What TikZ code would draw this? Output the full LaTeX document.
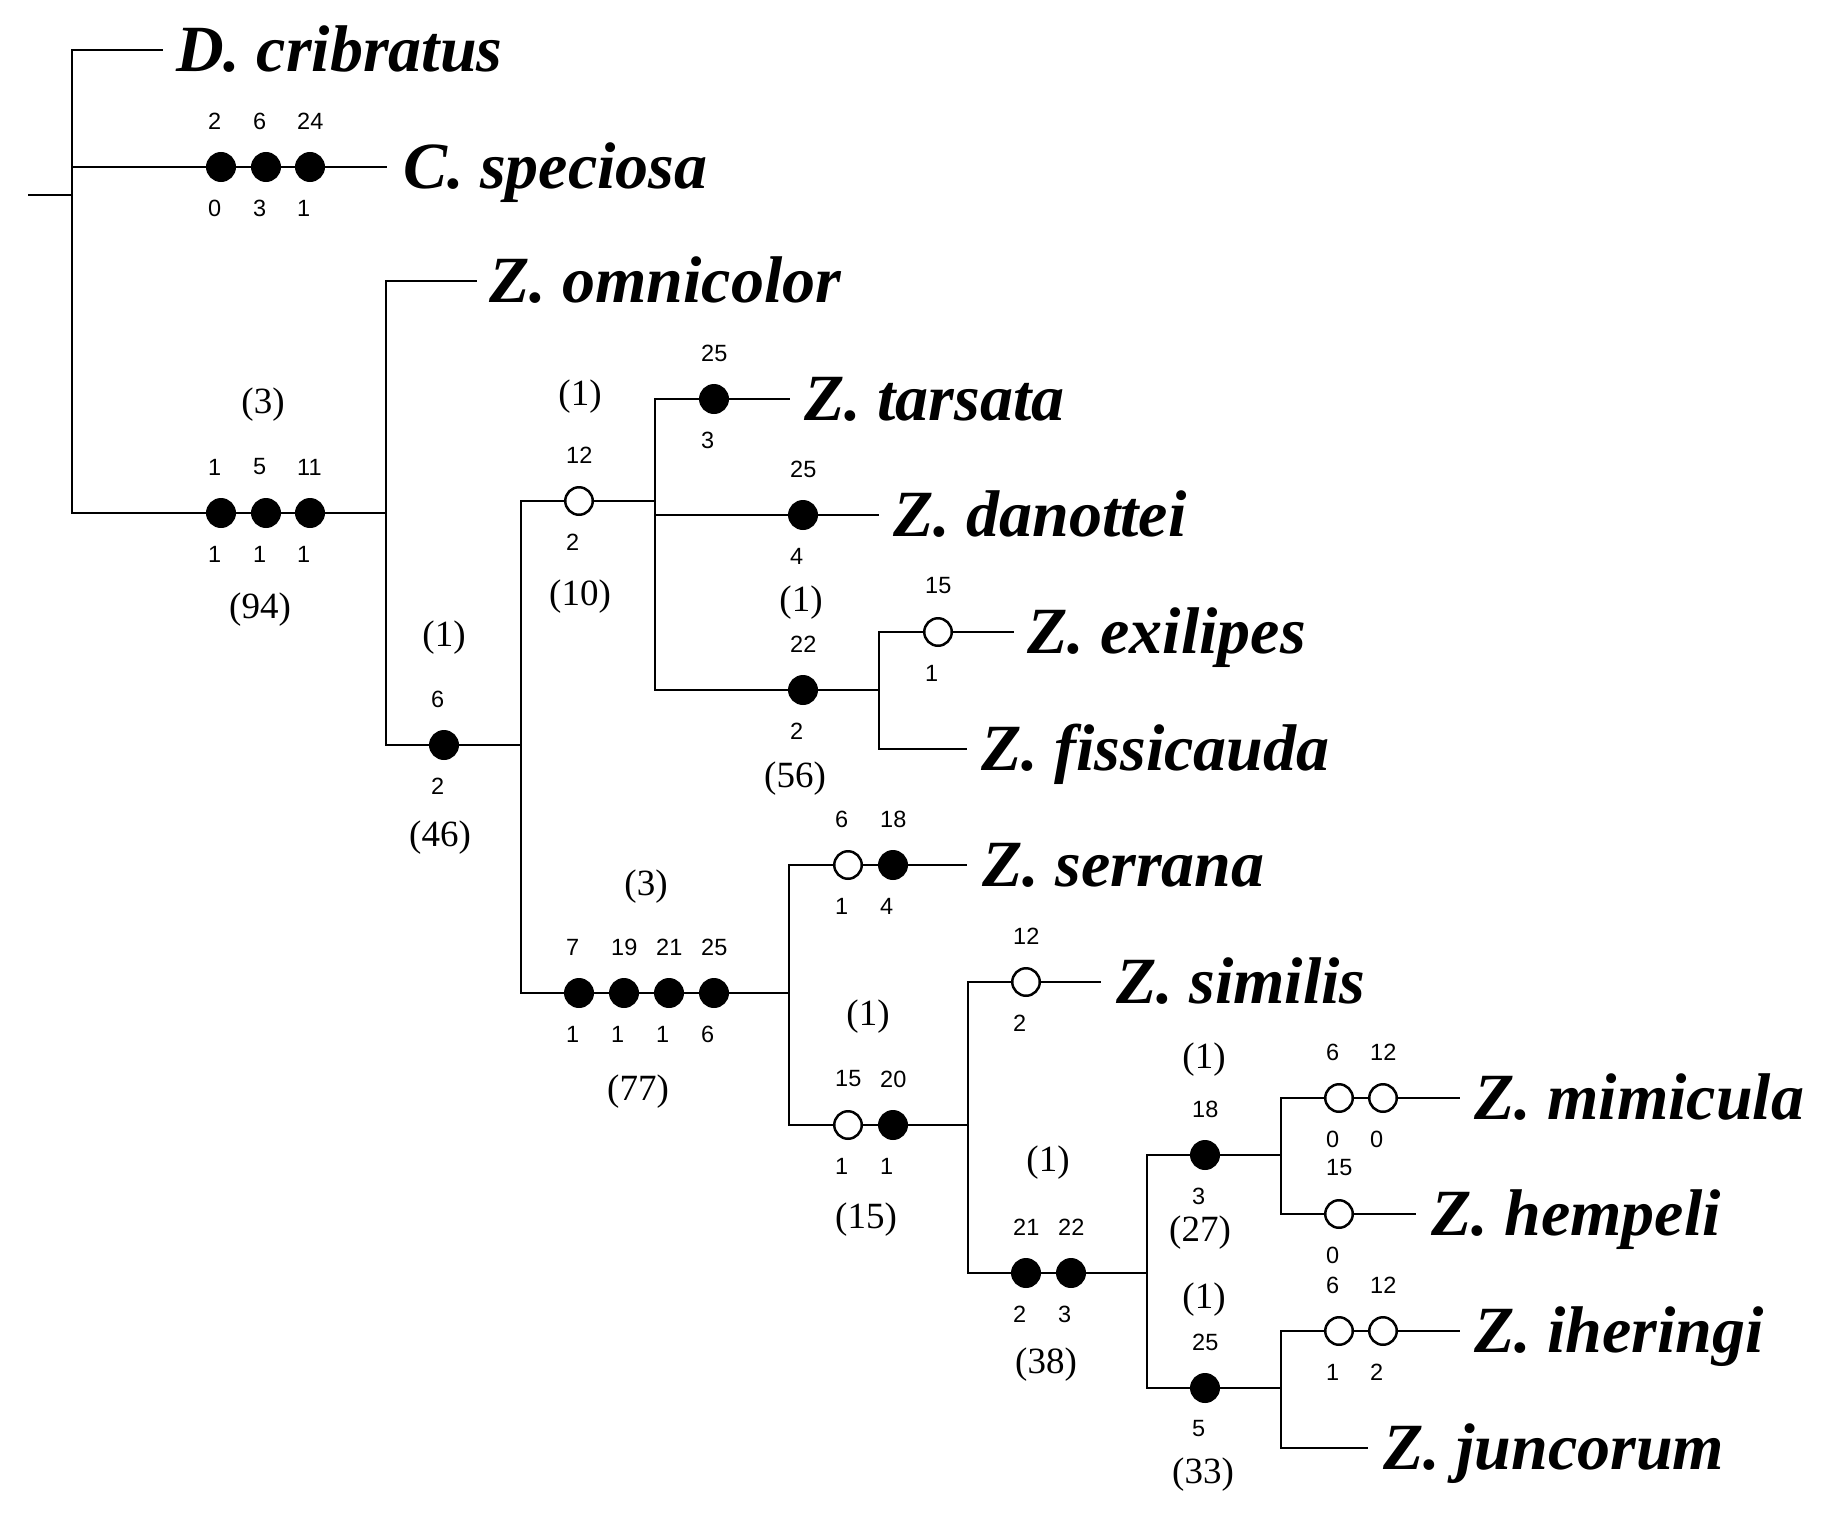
\documentclass[tikz,border=0pt]{standalone}
\usepackage{fontspec}
\setmainfont{Liberation Serif}
\newfontfamily\labfam{Liberation Sans}
\newcommand\chardot[6]{%
  \node[#2] (#1) at (#3,#4) {};
  \node[lab] (#1-up) at ({#3-13},{#4-46}) {#5};
  \node[lab] (#1-dn) at ({#3-13},{#4+41}) {#6};
}
\begin{document}
\begin{tikzpicture}[x=1pt,y=-1pt,
  br/.style={line width=2.9pt},
  vl/.style={line width=2.9pt, line cap=rect},
  fdot/.style={circle, draw=black, fill=black, line width=2.5pt, minimum size=27.5pt, inner sep=0pt},
  odot/.style={fdot, fill=white},
  lab/.style={font=\labfam\fontsize{23.5}{24}\selectfont, inner sep=0pt, anchor=west},
  par/.style={font=\fontsize{37}{37}\selectfont, inner sep=0pt},
  sp/.style={font=\bfseries\itshape\fontsize{66}{66}\selectfont, inner sep=0pt, anchor=base west}]
\fill[white] (0,0) rectangle (1826,1518);
\useasboundingbox (0,0) rectangle (1826,1518);

% ---------- root ----------
\coordinate (rootL) at (28,195);
\coordinate (rootJ) at (72,195);
\coordinate (J1t) at (72,50);
\coordinate (J1c) at (72,167);
\coordinate (J1b) at (72,513);
\draw[br] (rootL) -- (rootJ);
\draw[vl] (J1t) -- (J1b);

% D. cribratus
\coordinate (eD) at (163,50);
\node[sp] (tD) at (176,71) {D. cribratus};
\draw[br] (J1t) -- (eD);

% C. speciosa
\chardot{c1}{fdot}{221}{167}{2}{0}
\chardot{c2}{fdot}{266}{167}{6}{3}
\chardot{c3}{fdot}{310}{167}{24}{1}
\coordinate (eC) at (387,167);
\node[sp] (tC) at (403,188) {C. speciosa};
\draw[br] (J1c) -- (c1) -- (c2) -- (c3) -- (eC);

% clade (94)
\chardot{a1}{fdot}{221}{513}{1}{1}
\chardot{a2}{fdot}{266}{513}{5}{1}
\chardot{a3}{fdot}{310}{513}{11}{1}
\node[par] (a-s) at (263,405) {(3)};
\node[par] (a-b) at (260,610) {(94)};
\coordinate (J2t) at (386,281);
\coordinate (J2m) at (386,513);
\coordinate (J2b) at (386,745);
\draw[br] (J1b) -- (a1) -- (a2) -- (a3) -- (J2m);
\draw[vl] (J2t) -- (J2b);

% Z. omnicolor
\coordinate (eO) at (477,281);
\node[sp] (tO) at (489,302) {Z. omnicolor};
\draw[br] (J2t) -- (eO);

% clade (46)
\chardot{b1}{fdot}{444}{745}{6}{2}
\node[par] (b-s) at (444,638) {(1)};
\node[par] (b-b) at (440,838) {(46)};
\coordinate (J3t) at (521,501);
\coordinate (J3m) at (521,745);
\coordinate (J3b) at (521,993);
\draw[br] (J2b) -- (b1) -- (J3m);
\draw[vl] (J3t) -- (J3b);

% clade (10)
\chardot{d1}{odot}{579}{501}{12}{2}
\node[par] (d-s) at (580,397) {(1)};
\node[par] (d-b) at (580,597) {(10)};
\coordinate (J4t) at (655,399);
\coordinate (J4m) at (655,501);
\coordinate (J4n) at (655,515);
\coordinate (J4b) at (655,690);
\draw[br] (J3t) -- (d1) -- (J4m);
\draw[vl] (J4t) -- (J4b);

% Z. tarsata
\chardot{t1}{fdot}{714}{399}{25}{3}
\coordinate (eT) at (790,399);
\node[sp] (tT) at (804,420) {Z. tarsata};
\draw[br] (J4t) -- (t1) -- (eT);

% Z. danottei
\chardot{n1}{fdot}{803}{515}{25}{4}
\coordinate (eN) at (879,515);
\node[sp] (tN) at (893,536) {Z. danottei};
\draw[br] (J4n) -- (n1) -- (eN);

% clade (56)
\chardot{f1}{fdot}{803}{690}{22}{2}
\node[par] (f-s) at (801,603) {(1)};
\node[par] (f-b) at (795,779) {(56)};
\coordinate (J5t) at (879,632);
\coordinate (J5m) at (879,690);
\coordinate (J5b) at (879,749);
\draw[br] (J4b) -- (f1) -- (J5m);
\draw[vl] (J5t) -- (J5b);

% Z. exilipes
\chardot{x1}{odot}{938}{632}{15}{1}
\coordinate (eX) at (1014,632);
\node[sp] (tX) at (1027,653) {Z. exilipes};
\draw[br] (J5t) -- (x1) -- (eX);

% Z. fissicauda
\coordinate (eF) at (967,749);
\node[sp] (tF) at (981,770) {Z. fissicauda};
\draw[br] (J5b) -- (eF);

% clade (77)
\chardot{g1}{fdot}{579}{993}{7}{1}
\chardot{g2}{fdot}{624}{993}{19}{1}
\chardot{g3}{fdot}{669}{993}{21}{1}
\chardot{g4}{fdot}{714}{993}{25}{6}
\node[par] (g-s) at (646,887) {(3)};
\node[par] (g-b) at (638,1092) {(77)};
\coordinate (J6t) at (789,865);
\coordinate (J6m) at (789,993);
\coordinate (J6b) at (789,1125);
\draw[br] (J3b) -- (g1) -- (g2) -- (g3) -- (g4) -- (J6m);
\draw[vl] (J6t) -- (J6b);

% Z. serrana
\chardot{s1}{odot}{848}{865}{6}{1}
\chardot{s2}{fdot}{893}{865}{18}{4}
\coordinate (eS) at (967,865);
\node[sp] (tS) at (982,886) {Z. serrana};
\draw[br] (J6t) -- (s1) -- (s2) -- (eS);

% clade (15)
\chardot{h1}{odot}{848}{1125}{15}{1}
\chardot{h2}{fdot}{893}{1125}{20}{1}
\node[par] (h-s) at (868,1017) {(1)};
\node[par] (h-b) at (866,1220) {(15)};
\coordinate (J7t) at (968,982);
\coordinate (J7m) at (968,1125);
\coordinate (J7b) at (968,1273);
\draw[br] (J6b) -- (h1) -- (h2) -- (J7m);
\draw[vl] (J7t) -- (J7b);

% Z. similis
\chardot{m1}{odot}{1026}{982}{12}{2}
\coordinate (eM) at (1101,982);
\node[sp] (tM) at (1116,1003) {Z. similis};
\draw[br] (J7t) -- (m1) -- (eM);

% clade (38)
\chardot{k1}{fdot}{1026}{1273}{21}{2}
\chardot{k2}{fdot}{1071}{1273}{22}{3}
\node[par] (k-s) at (1048,1163) {(1)};
\node[par] (k-b) at (1046,1365) {(38)};
\coordinate (J8t) at (1147,1155);
\coordinate (J8m) at (1147,1273);
\coordinate (J8b) at (1147,1388);
\draw[br] (J7b) -- (k1) -- (k2) -- (J8m);
\draw[vl] (J8t) -- (J8b);

% clade (27)
\chardot{p1}{fdot}{1205}{1155}{18}{3}
\node[par] (p-s) at (1204,1060) {(1)};
\node[par] (p-b) at (1200,1233) {(27)};
\coordinate (J9t) at (1281,1098);
\coordinate (J9m) at (1281,1155);
\coordinate (J9b) at (1281,1214);
\draw[br] (J8t) -- (p1) -- (J9m);
\draw[vl] (J9t) -- (J9b);

% Z. mimicula
\chardot{q1}{odot}{1339}{1098}{6}{0}
\chardot{q2}{odot}{1383}{1098}{12}{0}
\coordinate (eQ) at (1460,1098);
\node[sp] (tQ) at (1474,1119) {Z. mimicula};
\draw[br] (J9t) -- (q1) -- (q2) -- (eQ);

% Z. hempeli
\chardot{u1}{odot}{1339}{1214}{15}{0}
\coordinate (eU) at (1416,1214);
\node[sp] (tU) at (1431,1235) {Z. hempeli};
\draw[br] (J9b) -- (u1) -- (eU);

% clade (33)
\chardot{v1}{fdot}{1205}{1388}{25}{5}
\node[par] (v-s) at (1204,1300) {(1)};
\node[par] (v-b) at (1203,1475) {(33)};
\coordinate (J10t) at (1281,1331);
\coordinate (J10m) at (1281,1388);
\coordinate (J10b) at (1281,1448);
\draw[br] (J8b) -- (v1) -- (J10m);
\draw[vl] (J10t) -- (J10b);

% Z. iheringi
\chardot{w1}{odot}{1339}{1331}{6}{1}
\chardot{w2}{odot}{1383}{1331}{12}{2}
\coordinate (eW) at (1460,1331);
\node[sp] (tW) at (1474,1352) {Z. iheringi};
\draw[br] (J10t) -- (w1) -- (w2) -- (eW);

% Z. juncorum
\coordinate (eJ) at (1368,1448);
\node[sp] (tJ) at (1383,1469) {Z. juncorum};
\draw[br] (J10b) -- (eJ);
\end{tikzpicture}
\end{document}
